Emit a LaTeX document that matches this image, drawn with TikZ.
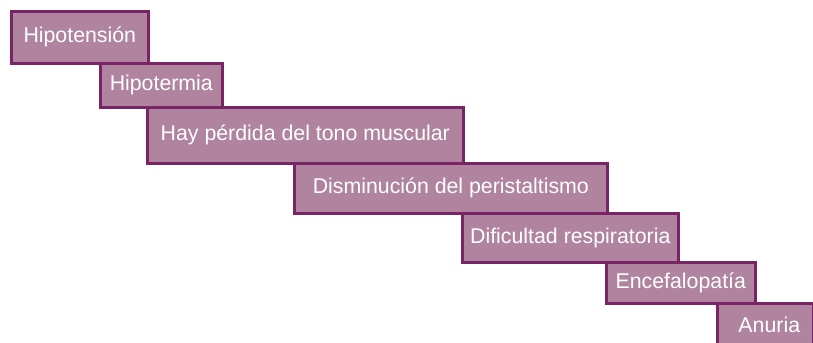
\documentclass[tikz,border=0pt]{standalone}
\usepackage{fontspec}
\setmainfont{Liberation Sans}
\definecolor{boxfill}{HTML}{B0849E}
\definecolor{boxline}{HTML}{7A2468}
\begin{document}
\begin{tikzpicture}[x=1bp,y=-1bp,
  stepbox/.style={draw=boxline, fill=boxfill, line width=2.6bp, text=white,
    inner sep=0pt, anchor=north west,
    font=\fontsize{21.4}{24}\selectfont}]
\useasboundingbox (0,0) rectangle (813,342);
\node[stepbox, minimum width=137bp, minimum height=52bp] (n1) at (10,10) {Hipotensión};
\node[stepbox, minimum width=122bp, minimum height=44bp] (n2) at (99,62) {Hipotermia};
\node[stepbox, minimum width=316bp, minimum height=56bp] (n3) at (146,106) {Hay pérdida del tono muscular};
\node[stepbox, minimum width=313bp, minimum height=50bp] (n4) at (293,162) {Disminución del peristaltismo};
\node[stepbox, minimum width=216bp, minimum height=49bp] (n5) at (461,212) {Dificultad respiratoria};
\node[stepbox, minimum width=149bp, minimum height=41bp] (n6) at (605,261) {Encefalopatía};
\node[stepbox, minimum width=96bp, minimum height=44bp] (n7) at (716,302) {\hspace{8bp}Anuria};
\end{tikzpicture}
\end{document}
